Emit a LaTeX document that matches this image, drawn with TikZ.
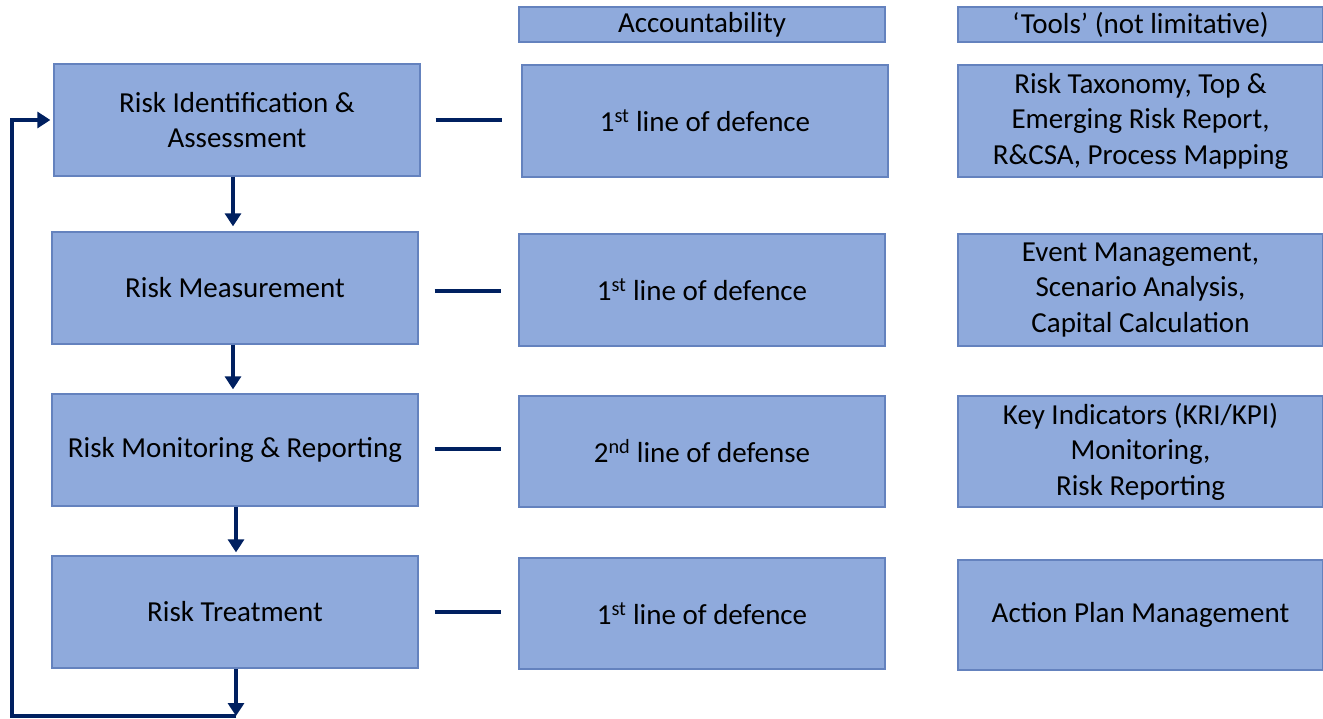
\documentclass[tikz,border=0pt]{standalone}
\usepackage{fontspec}
\setmainfont{Carlito}
\usetikzlibrary{arrows.meta,calc}
\definecolor{boxfill}{HTML}{8FAADC}
\definecolor{boxdraw}{HTML}{6482BE}
\definecolor{navy}{HTML}{002060}
\tikzset{
  box/.style={draw=boxdraw, line width=1.3pt, fill=boxfill, minimum width=366pt, minimum height=112pt,
    align=center, inner sep=0pt, font=\fontsize{29}{35.5}\selectfont, text=black},
  hdr/.style={box, minimum height=35pt},
  conn/.style={draw=navy, line width=4.5pt},
  arr/.style={conn, -{Triangle[length=13pt,width=16pt]}},
  dashline/.style={conn, shorten <=16pt, shorten >=17pt},
}
\begin{document}
\begin{tikzpicture}[x=1pt,y=-1pt]
\useasboundingbox (0,0) rectangle (1323,719);
% headers
\node[hdr] (hm) at (702,24.5) {Accountability};
\node[hdr, minimum width=365pt] (hr) at (1140.5,24.5) {‘Tools’ (not limitative)};
% left column
\node[box] (b1) at (237,120) {Risk Identification \&\\Assessment};
\node[box] (b2) at (235,288) {Risk Measurement};
\node[box] (b3) at (235,450) {Risk Monitoring \& Reporting};
\node[box] (b4) at (235,612) {Risk Treatment};
% middle column
\node[box] (m1) at (705,121) {1\textsuperscript{st} line of defence};
\node[box] (m2) at (702,290) {1\textsuperscript{st} line of defence};
\node[box, minimum height=111pt] (m3) at (702,451.5) {2\textsuperscript{nd} line of defense};
\node[box, minimum height=111pt] (m4) at (702,613.5) {1\textsuperscript{st} line of defence};
% right column
\node[box, minimum width=365pt] (r1) at (1140.5,121) {Risk Taxonomy, Top \&\\Emerging Risk Report,\\R\&CSA, Process Mapping};
\node[box, minimum width=365pt] (r2) at (1140.5,290) {Event Management,\\Scenario Analysis,\\Capital Calculation};
\node[box, minimum width=365pt, minimum height=111pt] (r3) at (1140.5,451.5) {Key Indicators (KRI/KPI)\\Monitoring,\\Risk Reporting};
\node[box, minimum width=365pt, minimum height=110pt] (r4) at (1140.5,615) {Action Plan Management};
% dashes
\draw[dashline, shorten <=15pt, shorten >=19pt] (b1.east) -- (b1.east -| m1.west);
\draw[dashline] ($(b2.east)+(0,3)$) -- ($(b2.east -| m2.west)+(0,3)$);
\draw[dashline] ($(b3.east)+(0,-1)$) -- ($(b3.east -| m3.west)+(0,-1)$);
\draw[dashline] (b4.east) -- (b4.east -| m4.west);
% down arrows
\draw[arr, shorten >=5pt] ($(b1.south)+(-4,0)$) -- ($(b1.south |- b2.north)+(-4,0)$);
\draw[arr, shorten >=4pt] ($(b2.south)+(-2,0)$) -- ($(b2.south |- b3.north)+(-2,0)$);
\draw[arr, shorten >=3pt] ($(b3.south)+(1,0)$) -- ($(b3.south |- b4.north)+(1,0)$);
\coordinate (loopc) at (236,716);
\coordinate (loopl) at (12,716);
\draw[arr] ($(b4.south)+(1,0)$) -- (loopc);
\draw[arr, line join=miter, shorten >=3pt] (loopc) -- (loopl) |- (b1.west);
\end{tikzpicture}
\end{document}
